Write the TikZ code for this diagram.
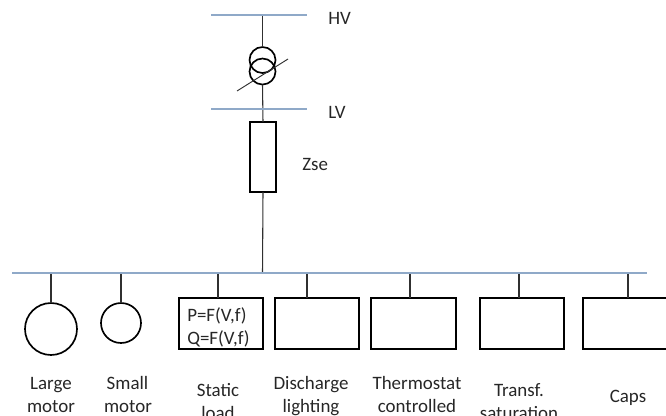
\documentclass[tikz,border=0pt]{standalone}
\usepackage{fontspec}
\setmainfont{Carlito}
\tikzset{
  x=0.75pt,y=-0.75pt,
  busbar/.style={draw=busblue,line width=0.8pt},
  wire/.style={draw=wiregray,line width=0.8pt},
  device/.style={draw=black,line width=1.5pt,inner sep=0pt,outer sep=0pt,rectangle},
  motorc/.style={draw=black,line width=1.25pt,circle,inner sep=0pt,outer sep=0pt},
  lab/.style={font=\fontsize{14.2}{18}\selectfont,align=center,inner sep=0pt,text=txtc},
}
\definecolor{busblue}{HTML}{8FA9C8}
\definecolor{wiregray}{HTML}{303030}
\definecolor{txtc}{HTML}{262626}
\newcommand{\boxat}[5]{\node[device,minimum width=#3*0.75pt,minimum height=#4*0.75pt,anchor=north west] (#5) at (#1,#2) {};}
\begin{document}
\begin{tikzpicture}
\useasboundingbox (0,0) rectangle (666,415);
\clip (0,0) rectangle (666,415);
% bus ends
\coordinate (hvL) at (211,15); \coordinate (hvR) at (307,15); \coordinate (hvT) at (262.5,15);
\coordinate (lvL) at (211,109); \coordinate (lvR) at (307,109);
\coordinate (busL) at (12,273); \coordinate (busR) at (647,273); \coordinate (busT) at (262.5,273);
\coordinate (slashA) at (237,91); \coordinate (slashB) at (288,59);
% devices
\node[motorc,minimum size=26*0.75pt] (tup) at (262.5,60) {};
\node[motorc,minimum size=26*0.75pt] (tlo) at (262.5,71.5) {};
\node[device,minimum width=26*0.75pt,minimum height=70*0.75pt] (zse) at (263,157) {};
\node[motorc,minimum size=52*0.75pt] (lm) at (51,329) {};
\node[motorc,minimum size=40*0.75pt] (sm) at (121,323) {};
\boxat{179}{298}{84}{51}{stat}
\boxat{275}{298}{84}{51}{disc}
\boxat{371}{298}{85}{51}{therm}
\boxat{480}{298}{84}{51}{trans}
\boxat{583}{298}{84}{51}{caps}
\coordinate (sStat) at (218,298); \coordinate (sDisc) at (307,298); \coordinate (sTherm) at (410,298);
\coordinate (sTrans) at (519,298); \coordinate (sCaps) at (628,298);
% wires
\draw[wire] (hvT) -- (tup.north);
\draw[wire] (tlo.south) -- (zse.north);
\draw[wire] (zse.south) -- (busT);
\draw[wire] (lm.north) -- (lm.north |- busL);
\draw[wire] (sm.north) -- (sm.north |- busL);
\foreach \s in {sStat,sDisc,sTherm,sTrans,sCaps} \draw[wire] (\s) -- (\s |- busL);
\draw[wire,line width=0.7pt] (slashA) -- (slashB);
% buses
\draw[busbar] (hvL) -- (hvR);
\draw[busbar] (lvL) -- (lvR);
\draw[busbar,line width=1.2pt] (busL) -- (busR);
% labels
\node[lab,anchor=base west] (lHV) at (328,24) {HV};
\node[lab,anchor=base west] (lLV) at (328,118) {LV};
\node[lab,anchor=base west] (lZ) at (302,170) {Zse};
\node[lab,anchor=base west] (pq1) at (187,321) {P=F(V,f)};
\node[lab,anchor=base west] (pq2) at (187,344) {Q=F(V,f)};
\node[lab,anchor=base] (a1) at (51,389) {Large};
\node[lab,anchor=base] (a2) at (51,412) {motor};
\node[lab,anchor=base] (b1) at (127.5,389) {Small};
\node[lab,anchor=base] (b2) at (128,412) {motor};
\node[lab,anchor=base] (c1) at (218,396) {Static};
\node[lab,anchor=base] (c2) at (218,419) {load};
\node[lab,anchor=base] (d1) at (311,389) {Discharge};
\node[lab,anchor=base] (d2) at (311,412) {lighting};
\node[lab,anchor=base] (e1) at (417,389) {Thermostat};
\node[lab,anchor=base] (e2) at (417,412) {controlled};
\node[lab,anchor=base] (f1) at (519,396) {Transf.};
\node[lab,anchor=base] (f2) at (519,419) {saturation};
\node[lab,anchor=base] (g1) at (628,402) {Caps};
\end{tikzpicture}
\end{document}
